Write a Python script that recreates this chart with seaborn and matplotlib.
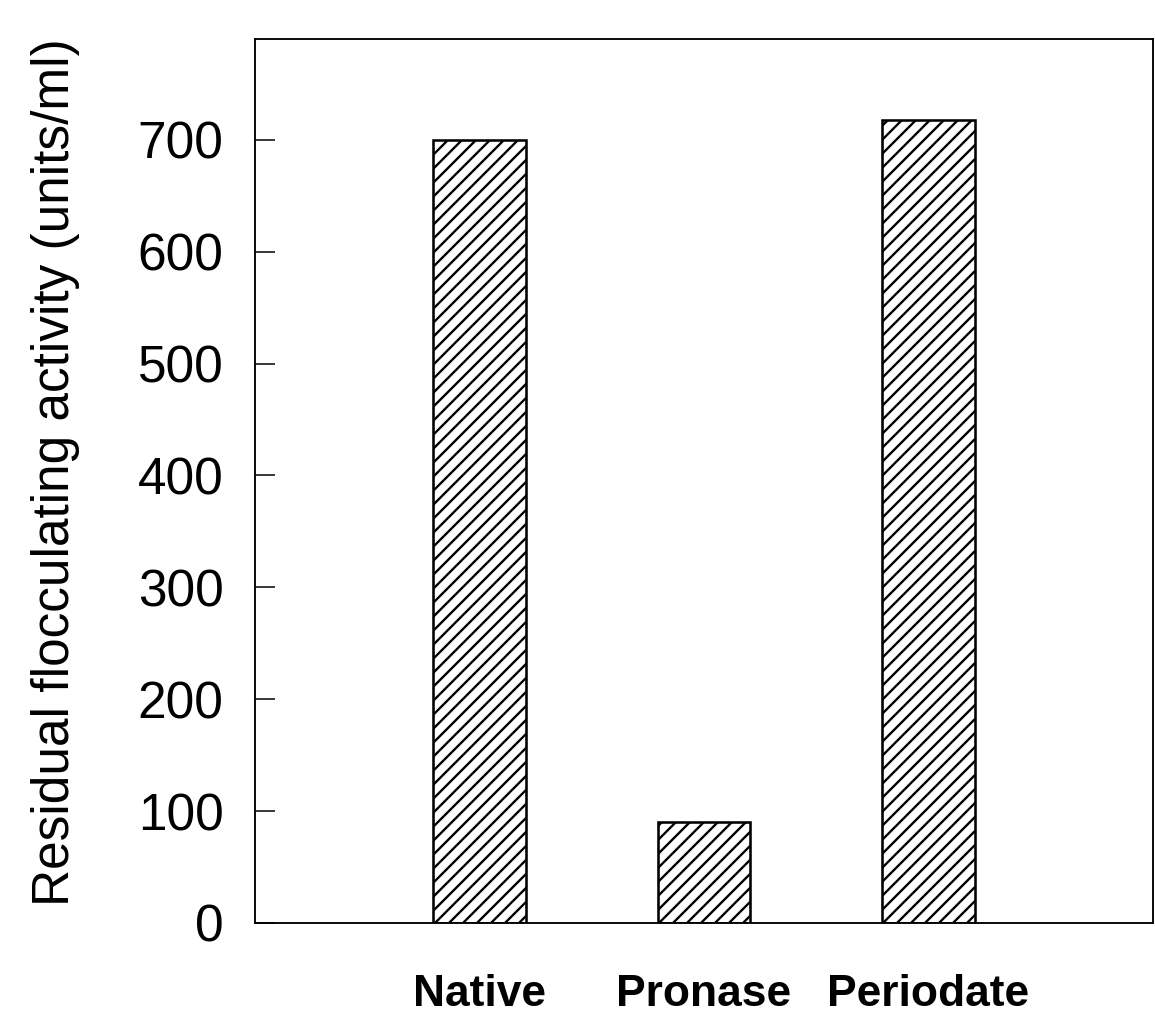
import matplotlib
matplotlib.use("Agg")
import matplotlib.pyplot as plt
import seaborn as sns
import pandas as pd

categories = ["Native", "Pronase", "Periodate"]
activity = [700, 90, 718]
yticks = [0, 100, 200, 300, 400, 500, 600, 700]

sns.set_theme(style="white")
plt.rcParams['font.family'] = ['Liberation Sans', 'DejaVu Sans']
plt.rcParams['hatch.linewidth'] = 2.0
plt.rcParams['hatch.color'] = 'black'

DPI = 84
fig = plt.figure(figsize=(1155 / DPI, 1019 / DPI), dpi=DPI)
fig.patch.set_facecolor('white')
ax = fig.add_axes([255 / 1155, 1 - 923 / 1019, (1153 - 255) / 1155, (923 - 39) / 1019])

df = pd.DataFrame({"treatment": categories, "activity": activity})
sns.barplot(data=df, x="treatment", y="activity", color="white", saturation=1,
            edgecolor="black", linewidth=2.2, width=0.41, ax=ax)
for p in ax.patches:
    p.set_hatch('//')
    p.set_facecolor('white')
    p.set_edgecolor('black')

ax.set_xlim(-1, 3)
ax.set_ylim(0, 790)
ax.set_yticks(yticks)
ax.set_yticklabels([str(v) for v in yticks])
ax.set_xlabel("")
ax.set_ylabel("Residual flocculating activity (units/ml)", fontsize=44, color='black')
ax.yaxis.set_label_coords(-0.195, 0.51)

ax.tick_params(axis='y', direction='in', length=17, width=1.3, labelsize=44,
               pad=27, colors='black', left=True, right=False)
ax.tick_params(axis='x', length=0, pad=44, labelsize=38, colors='black', bottom=False)
for lab in ax.get_xticklabels():
    lab.set_fontweight('bold')

for s in ax.spines.values():
    s.set_visible(True)
    s.set_color('black')
    s.set_linewidth(1.6)

fig.savefig("out.png", dpi=DPI, facecolor='white')
